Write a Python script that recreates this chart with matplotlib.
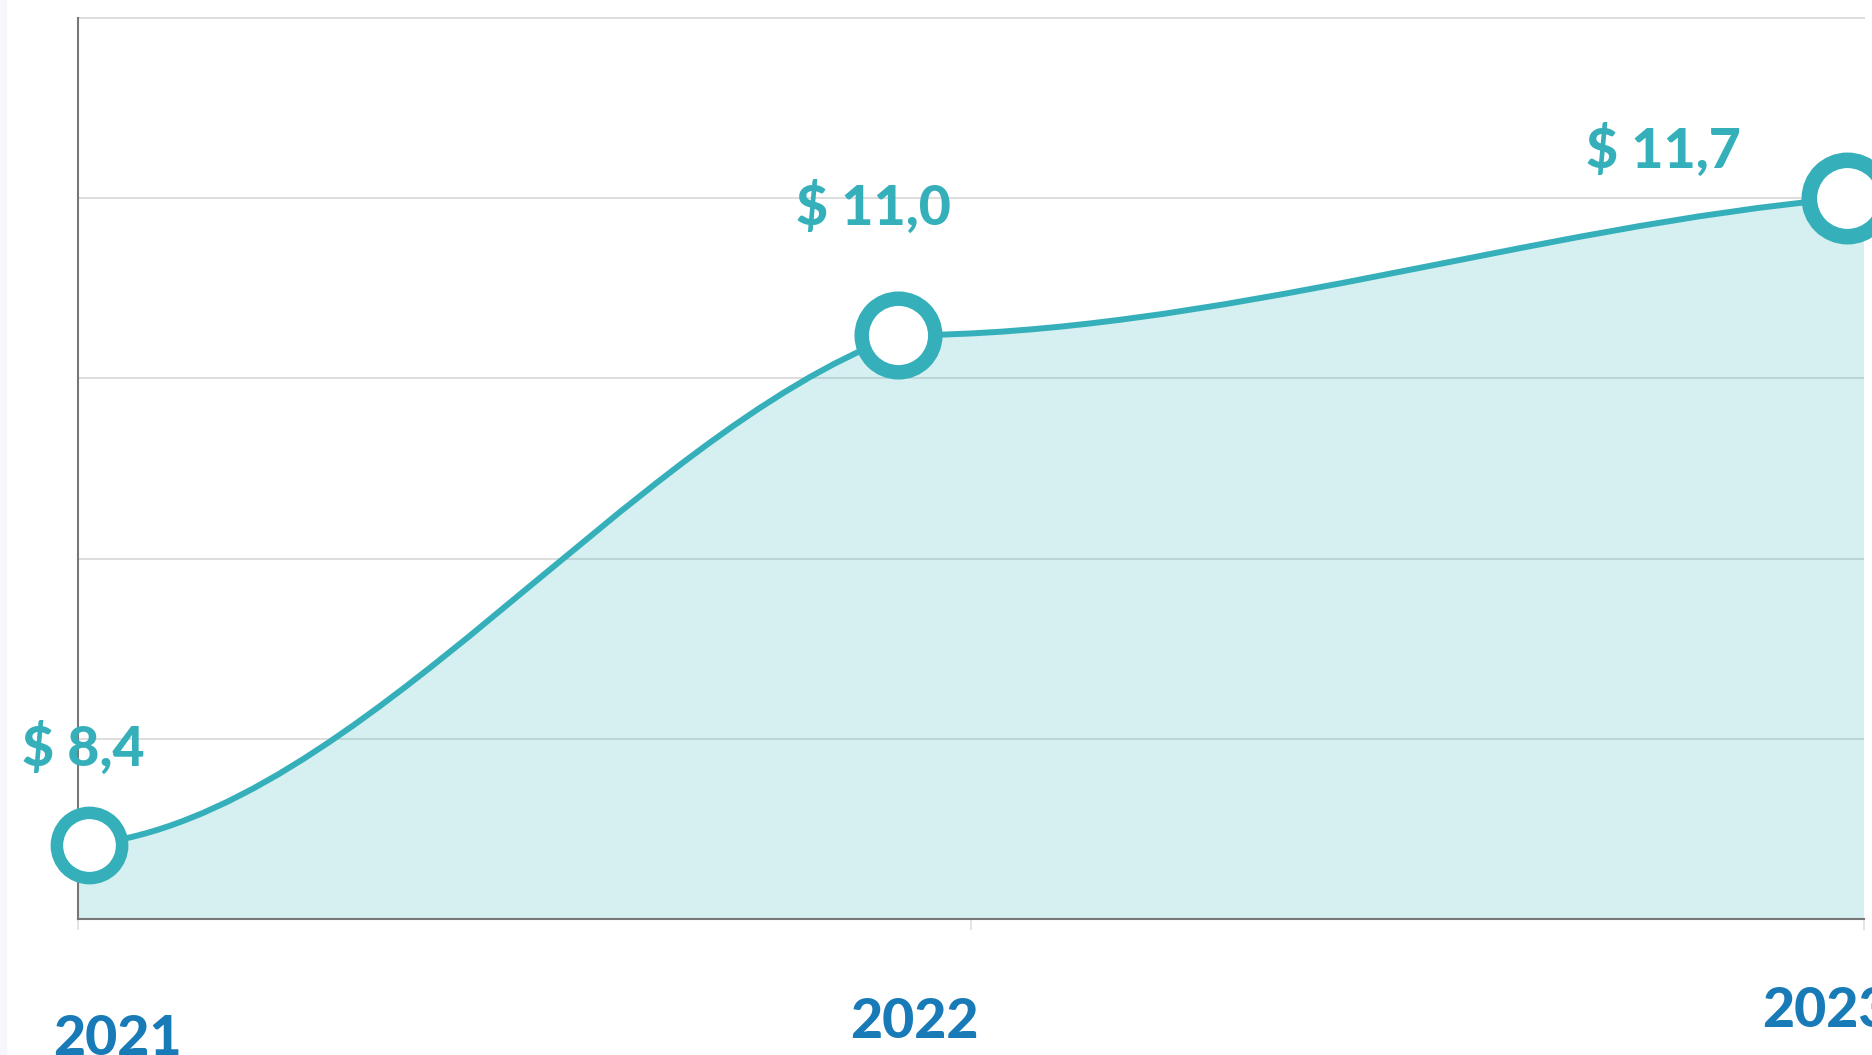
"""
Área suavizada con marcadores de anillo: valores 2021-2023.
"""

import numpy as np
import matplotlib
matplotlib.use("Agg")
import matplotlib.pyplot as plt
from matplotlib.path import Path
from matplotlib.patches import PathPatch, Rectangle

plt.rcParams["font.family"] = ["Lato", "DejaVu Sans"]

# Datos
years = [2021, 2022, 2023]
year_labels = ["2021", "2022", "2023"]
point_x = [2021.012, 2021.918, 2022.981]
values = [8.4, 11.0, 11.7]
value_labels = ["$ 8,4", "$ 11,0", "$ 11,7"]

# Suavizado de la curva (pendientes en cada punto, unidades/año)
slope_out = [0.5, 0.0, 0.0]
slope_in = [0.0, 1.7, 0.4]

TEAL = "#35B0BA"
BLUE = "#187AB6"
GRID = "#DDDDDD"
SPINE = "#777777"

# Tamaño de los anillos (pt): diámetro y grosor del borde
marker_size = [47, 53, 55]
marker_edge = [9.0, 10.4, 11.2]

# Desplazamientos de las etiquetas (píxeles)
value_offsets = [(-67, 79), (-102, 110), (-261, 30)]
year_offsets = [(-25, -136), (-121, -119), (-102, -108)]

Y_MIN, Y_MAX = 8.02, 12.62


def curve_path(xs, ys, m_out, m_in):
    verts = [(xs[0], ys[0])]
    codes = [Path.MOVETO]
    for i in range(len(xs) - 1):
        h = xs[i + 1] - xs[i]
        verts += [
            (xs[i] + h / 3, ys[i] + m_out[i] * h / 3),
            (xs[i + 1] - h / 3, ys[i + 1] - m_in[i + 1] * h / 3),
            (xs[i + 1], ys[i + 1]),
        ]
        codes += [Path.CURVE4] * 3
    return verts, codes


fig = plt.figure(figsize=(18.72, 10.55), dpi=100)
fig.patches.append(
    Rectangle((0, 0), 6 / 1872, 1, transform=fig.transFigure,
              color="#F5F7FC", zorder=0)
)
ax = fig.add_axes([0.041667, 0.12891, 0.95406, 0.85403])

verts, codes = curve_path(point_x, values, slope_out, slope_in)

# Área
fill_verts = [(years[0], Y_MIN), (years[0], values[0])] + verts + \
    [(years[-1], values[-1]), (years[-1], Y_MIN), (years[0], Y_MIN)]
fill_codes = [Path.MOVETO, Path.LINETO, Path.LINETO] + codes[1:] + \
    [Path.LINETO, Path.LINETO, Path.CLOSEPOLY]
ax.add_patch(PathPatch(Path(fill_verts, fill_codes), facecolor=TEAL,
                       alpha=0.2, edgecolor="none", zorder=2))

# Línea
ax.add_patch(PathPatch(Path(verts, codes), facecolor="none",
                       edgecolor=TEAL, lw=4.3, zorder=3,
                       capstyle="round"))

# Marcadores
for x, v, ms, mew in zip(point_x, values, marker_size, marker_edge):
    ax.plot([x], [v], "o", ms=ms, mfc="white", mec=TEAL, mew=mew,
            clip_on=False, zorder=5)

for x, v, lab, (dx, dy) in zip(point_x, values, value_labels, value_offsets):
    ax.annotate(lab, xy=(x, v), xytext=(dx, dy), textcoords="offset pixels",
                ha="left", va="baseline", fontsize=40, fontweight="black",
                color=TEAL, annotation_clip=False, zorder=6)

for x, lab, (dx, dy) in zip(years, year_labels, year_offsets):
    ax.annotate(lab, xy=(x, 0), xycoords=("data", "axes fraction"),
                xytext=(dx, dy), textcoords="offset pixels",
                ha="left", va="baseline", fontsize=40, fontweight="black",
                color=BLUE, annotation_clip=False)

ax.set_xlim(years[0], years[-1])
ax.set_ylim(Y_MIN, Y_MAX)
ax.set_xticks(years)
ax.set_xticklabels([])
ax.set_yticks(np.linspace(Y_MIN, Y_MAX, 6)[1:-1])
ax.set_yticklabels([])
ax.tick_params(axis="x", length=8, width=1.1, color=GRID, direction="out")
ax.tick_params(axis="y", length=0)
ax.grid(axis="y", color=GRID, lw=1.44, zorder=1)
ax.set_axisbelow(True)

for side in ["left", "bottom"]:
    ax.spines[side].set_color(SPINE)
    ax.spines[side].set_linewidth(1.5)
    ax.spines[side].set_zorder(4)
ax.spines["top"].set_color(GRID)
ax.spines["top"].set_linewidth(1.44)
ax.spines["right"].set_visible(False)

fig.savefig("out.png", dpi=100)
